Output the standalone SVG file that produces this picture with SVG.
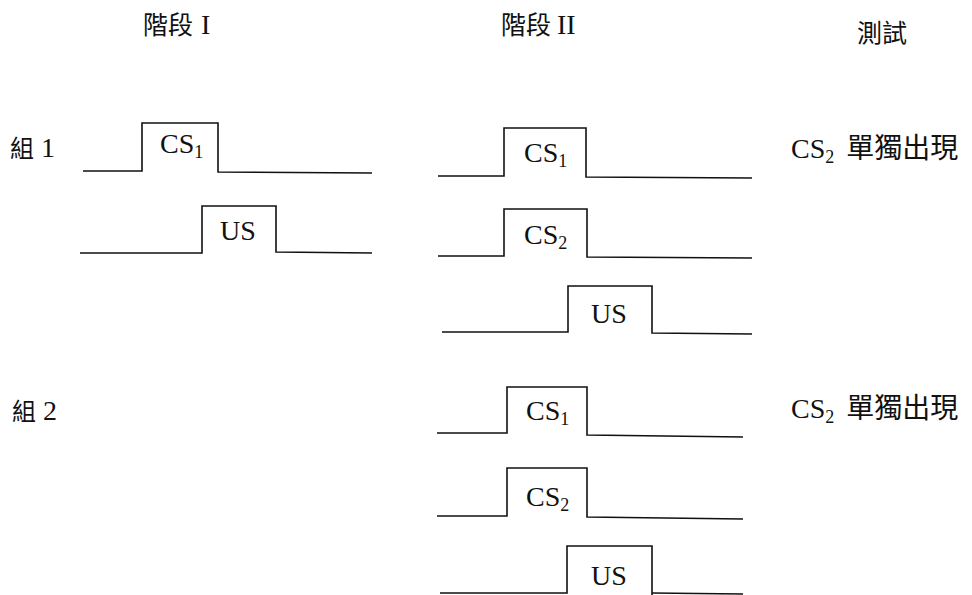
<svg xmlns="http://www.w3.org/2000/svg" width="972" height="595" viewBox="0 0 972 595">
<style>
.w{fill:none;stroke:#111;stroke-width:1.6;stroke-linejoin:miter}
.t{font-family:"Liberation Serif","Noto Sans CJK TC",serif;font-size:28px;fill:#111}
.c{font-family:"Noto Sans CJK TC","Liberation Serif",serif;fill:#111}
.s{font-size:18px}
</style>
<rect width="972" height="595" fill="#fff"/>
<g id="headers">
<text class="t" x="143" y="34"><tspan class="c" font-size="25">階段</tspan><tspan dx="8">I</tspan></text>
<text class="t" x="501" y="34"><tspan class="c" font-size="25">階段</tspan><tspan dx="6">II</tspan></text>
<text class="c" x="857" y="42" font-size="25">測試</text>
</g>
<g id="group1-label"><text class="t" x="10" y="157"><tspan class="c" font-size="24">組</tspan><tspan dx="7">1</tspan></text></g>
<g id="group2-label"><text class="t" x="12" y="420"><tspan class="c" font-size="24">組</tspan><tspan dx="7">2</tspan></text></g>
<g id="g1-phase1-cs1">
<path class="w" d="M83,171 H142 V123 H218 V172 L372,173"/>
<text class="t" x="160" y="153">CS<tspan class="s" dy="5">1</tspan></text>
</g>
<g id="g1-phase1-us">
<path class="w" d="M80,253 H202 V206 H276 V252 L372,253"/>
<text class="t" x="220" y="240">US</text>
</g>
<g id="g1-phase2-cs1">
<path class="w" d="M438,176 H504 V128 H586 V177 L752,178"/>
<text class="t" x="524" y="162">CS<tspan class="s" dy="5">1</tspan></text>
</g>
<g id="g1-phase2-cs2">
<path class="w" d="M438,256 H504 V209 H587 V257 L752,258"/>
<text class="t" x="524" y="244">CS<tspan class="s" dy="5">2</tspan></text>
</g>
<g id="g1-phase2-us">
<path class="w" d="M442,332 H568 V286 H652 V333 L752,334"/>
<text class="t" x="591" y="323">US</text>
</g>
<g id="g2-phase2-cs1">
<path class="w" d="M437,433 H507 V387 H587 V435 L743,437"/>
<text class="t" x="526" y="420">CS<tspan class="s" dy="5">1</tspan></text>
</g>
<g id="g2-phase2-cs2">
<path class="w" d="M437,516 H507 V468 H587 V517 L743,519"/>
<text class="t" x="526" y="506">CS<tspan class="s" dy="5">2</tspan></text>
</g>
<g id="g2-phase2-us">
<path class="w" d="M440,593 H567 V546 H652 V596"/>
<path class="w" d="M652,593 L743,594"/>
<text class="t" x="591" y="585">US</text>
</g>
<g id="test1"><text class="t" x="791" y="158">CS<tspan class="s" dy="5">2</tspan><tspan class="c" font-size="28" dy="-5" dx="12">單獨出現</tspan></text></g>
<g id="test2"><text class="t" x="791" y="418">CS<tspan class="s" dy="5">2</tspan><tspan class="c" font-size="28" dy="-5" dx="12">單獨出現</tspan></text></g>
</svg>
